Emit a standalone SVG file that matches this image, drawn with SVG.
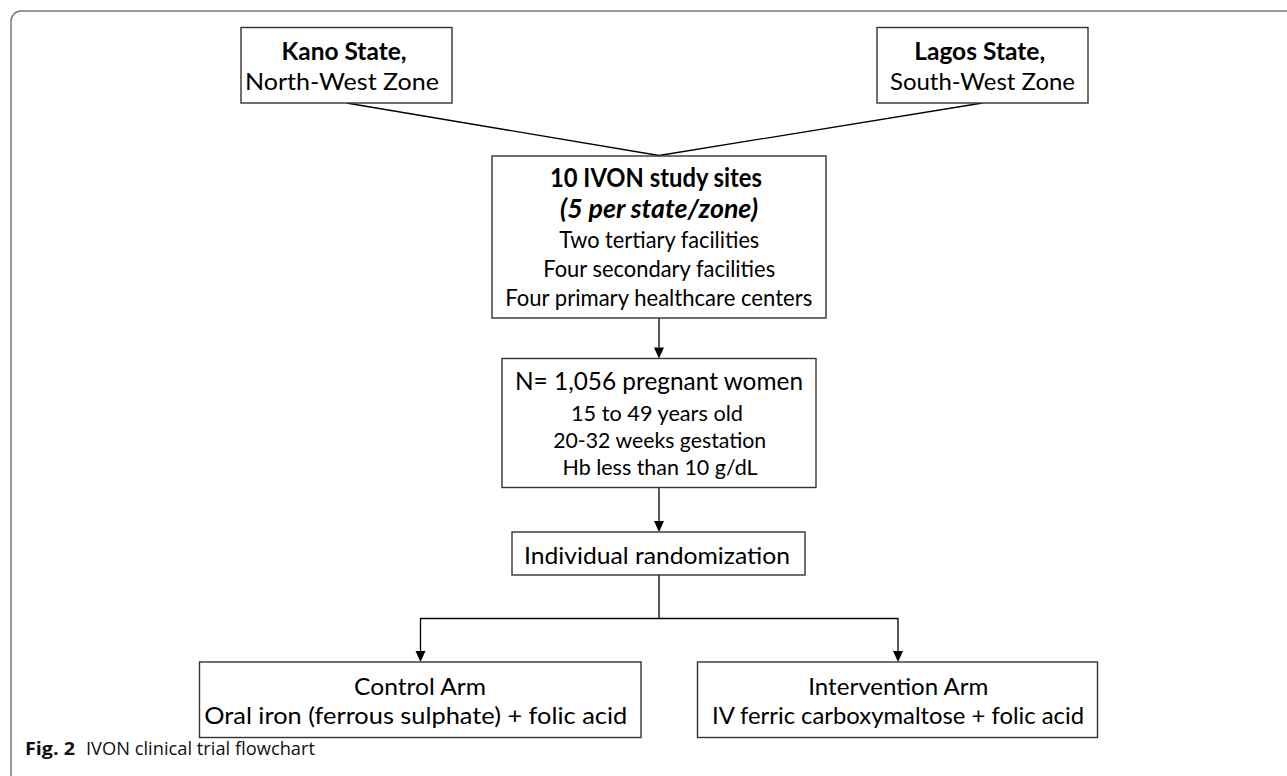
<svg xmlns="http://www.w3.org/2000/svg" width="1287" height="776" viewBox="0 0 1287 776">
<style>
.box{fill:#fff;stroke:#333;stroke-width:1.4}
.t{font-family:Lato,"Open Sans","Liberation Sans",sans-serif;font-size:24px;fill:#000;text-anchor:middle}
.s{font-size:22px}
.b{font-weight:bold}
.bi{font-weight:bold;font-style:italic}
.c{fill:none;stroke:#000;stroke-width:1.3}
.cap{font-family:"Open Sans","Liberation Sans",sans-serif;font-size:18px;fill:#111}
</style>
<path d="M11,776 V21 A10,10 0 0 1 21,11 H1287" fill="none" stroke="#777" stroke-width="1.5"/>
<g id="connectors">
<path class="c" d="M346.5,103 L659,155.5"/>
<path class="c" d="M982.5,103 L659,155.5"/>
<path class="c" d="M659,318 V347.5"/>
<path d="M654,347.5 L664,347.5 L659,358.5 z" fill="#000"/>
<path class="c" d="M659,488 V521"/>
<path d="M654,521 L664,521 L659,532 z" fill="#000"/>
<path class="c" d="M659,575 V618.5"/>
<path class="c" d="M420.5,651 V618.5 H898 V651"/>
<path d="M415.5,651 L425.5,651 L420.5,662 z" fill="#000"/>
<path d="M893,651 L903,651 L898,662 z" fill="#000"/>
</g>
<g id="kano">
<rect class="box" x="241" y="27.5" width="211" height="75.5"/>
<text class="t b" x="344" y="59.5" textLength="125" lengthAdjust="spacingAndGlyphs">Kano State,</text>
<text class="t" x="342" y="89.5" textLength="194" lengthAdjust="spacingAndGlyphs">North-West Zone</text>
</g>
<g id="lagos">
<rect class="box" x="877" y="27.5" width="211" height="75.5"/>
<text class="t b" x="979.7" y="59.5" textLength="131" lengthAdjust="spacingAndGlyphs">Lagos State,</text>
<text class="t" x="982.5" y="89.5" textLength="185" lengthAdjust="spacingAndGlyphs">South-West Zone</text>
</g>
<g id="sites">
<rect class="box" x="492" y="156" width="334" height="162"/>
<text class="t b" x="656" y="187" style="font-size:26px" textLength="212" lengthAdjust="spacingAndGlyphs">10 IVON study sites</text>
<text class="t bi" x="659" y="217.5" style="font-size:26px" textLength="198" lengthAdjust="spacingAndGlyphs">(5 per state/zone)</text>
<text class="t" x="659.3" y="247.5" textLength="200" lengthAdjust="spacingAndGlyphs">Two tertiary facilities</text>
<text class="t" x="659.2" y="276.5" textLength="232" lengthAdjust="spacingAndGlyphs">Four secondary facilities</text>
<text class="t" x="658.7" y="305.5" textLength="307" lengthAdjust="spacingAndGlyphs">Four primary healthcare centers</text>
</g>
<g id="women">
<rect class="box" x="502" y="358.5" width="314" height="129"/>
<text class="t" x="659" y="389.5" style="font-size:25px" textLength="288" lengthAdjust="spacingAndGlyphs">N= 1,056 pregnant women</text>
<text class="t s" x="657" y="421" textLength="172" lengthAdjust="spacingAndGlyphs">15 to 49 years old</text>
<text class="t s" x="659.7" y="448" textLength="213" lengthAdjust="spacingAndGlyphs">20-32 weeks gestation</text>
<text class="t s" x="660" y="474.5" textLength="195" lengthAdjust="spacingAndGlyphs">Hb less than 10 g/dL</text>
</g>
<g id="randomization">
<rect class="box" x="512" y="532" width="293" height="43"/>
<text class="t" x="657" y="564" textLength="266" lengthAdjust="spacingAndGlyphs">Individual randomization</text>
</g>
<g id="control">
<rect class="box" x="199.5" y="662" width="441.5" height="75.5"/>
<text class="t" x="420" y="694.5" textLength="132" lengthAdjust="spacingAndGlyphs">Control Arm</text>
<text class="t" x="415.7" y="723.5" textLength="423" lengthAdjust="spacingAndGlyphs">Oral iron (ferrous sulphate) + folic acid</text>
</g>
<g id="intervention">
<rect class="box" x="697.5" y="662" width="400" height="75.5"/>
<text class="t" x="898.3" y="694.5" textLength="180" lengthAdjust="spacingAndGlyphs">Intervention Arm</text>
<text class="t" x="898" y="723.5" textLength="372" lengthAdjust="spacingAndGlyphs">IV ferric carboxymaltose + folic acid</text>
</g>
<g id="caption">
<text class="cap" x="25" y="755" font-weight="bold" textLength="50" lengthAdjust="spacingAndGlyphs">Fig. 2</text>
<text class="cap" x="86" y="755" textLength="229" lengthAdjust="spacingAndGlyphs">IVON clinical trial flowchart</text>
</g>
</svg>
